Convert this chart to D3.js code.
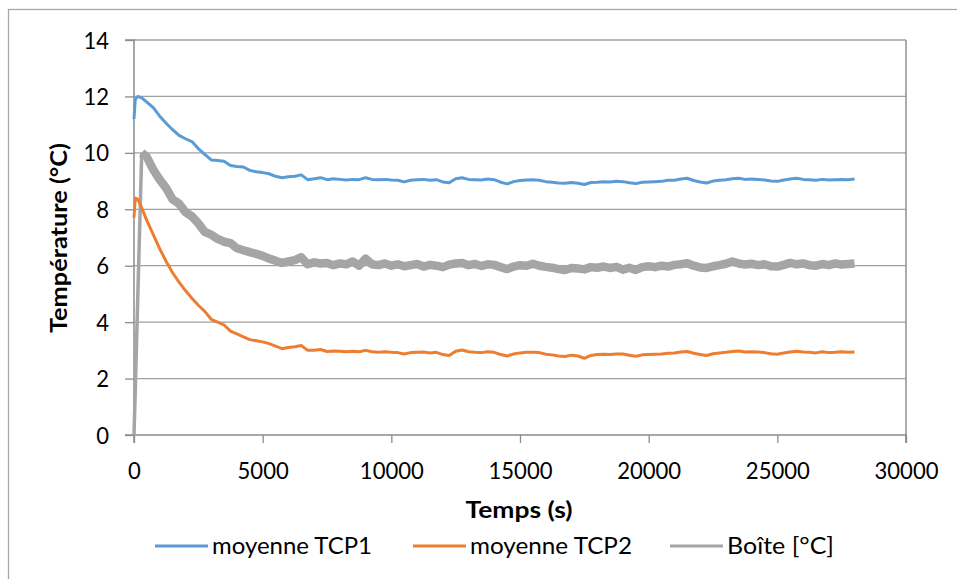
<!DOCTYPE html>
<html>
<head>
<meta charset="utf-8">
<script src="https://cdn.jsdelivr.net/npm/d3@7"></script>
<style>
  html, body { margin: 0; padding: 0; background: #fff; }
  svg { display: block; }
  text { font-family: Lato, "Open Sans", sans-serif; fill: #000; }
</style>
</head>
<body>
<svg id="chart" width="957" height="579"></svg>
<script>
// Time stamps (s) shared by the three temperature series
const temps = [0, 50, 150, 300, 500, 750, 1000, 1250, 1500, 1750, 2000, 2250, 2500, 2750, 3000,
  3250, 3500, 3750, 4000, 4250, 4500, 4750, 5000, 5250, 5500, 5750, 6000, 6250, 6500, 6750,
  7000, 7250, 7500, 7750, 8000, 8250, 8500, 8750, 9000, 9250, 9500, 9750, 10000, 10250, 10500,
  10750, 11000, 11250, 11500, 11750, 12000, 12250, 12500, 12750, 13000, 13250, 13500, 13750,
  14000, 14250, 14500, 14750, 15000, 15250, 15500, 15750, 16000, 16250, 16500, 16750, 17000,
  17250, 17500, 17750, 18000, 18250, 18500, 18750, 19000, 19250, 19500, 19750, 20000, 20250,
  20500, 20750, 21000, 21250, 21500, 21750, 22000, 22250, 22500, 22750, 23000, 23250, 23500,
  23750, 24000, 24250, 24500, 24750, 25000, 25250, 25500, 25750, 26000, 26250, 26500, 26750,
  27000, 27250, 27500, 27750, 28000];

// moyenne TCP1 (°C)
const tcp1 = [11.2, 11.9, 12.0, 11.95, 11.8, 11.6, 11.3, 11.05, 10.82, 10.62, 10.5, 10.4, 10.15, 9.95, 9.75,
  9.73, 9.7, 9.55, 9.52, 9.5, 9.38, 9.33, 9.3, 9.26, 9.17, 9.12, 9.15, 9.17, 9.22, 9.05,
  9.08, 9.12, 9.05, 9.08, 9.06, 9.04, 9.06, 9.05, 9.12, 9.06, 9.05, 9.06, 9.04, 9.03, 8.97,
  9.03, 9.05, 9.06, 9.03, 9.05, 8.97, 8.94, 9.08, 9.12, 9.06, 9.05, 9.04, 9.07,
  9.05, 8.96, 8.9, 8.98, 9.02, 9.04, 9.05, 9.03, 8.98, 8.96, 8.93, 8.92, 8.95,
  8.92, 8.88, 8.95, 8.96, 8.98, 8.97, 8.99, 8.98, 8.94, 8.91, 8.96, 8.97, 8.98,
  8.99, 9.03, 9.03, 9.07, 9.1, 9.02, 8.97, 8.93, 9.0, 9.03, 9.05, 9.08, 9.1,
  9.06, 9.07, 9.06, 9.04, 9.0, 8.99, 9.04, 9.07, 9.1, 9.06, 9.05, 9.03, 9.06,
  9.04, 9.05, 9.06, 9.05, 9.07];

// moyenne TCP2 (°C)
const tcp2 = [7.7, 8.4, 8.35, 8.05, 7.6, 7.1, 6.6, 6.15, 5.75, 5.42, 5.12, 4.85, 4.6, 4.38, 4.1,
  4.0, 3.9, 3.68, 3.58, 3.48, 3.38, 3.34, 3.3, 3.24, 3.15, 3.06, 3.1, 3.13, 3.17, 3.0,
  3.0, 3.03, 2.96, 2.98, 2.97, 2.95, 2.97, 2.95, 3.0, 2.95, 2.93, 2.95, 2.93, 2.92, 2.87,
  2.92, 2.93, 2.94, 2.91, 2.93, 2.85, 2.82, 2.97, 3.01, 2.95, 2.93, 2.92, 2.95,
  2.93, 2.85, 2.8, 2.87, 2.91, 2.93, 2.93, 2.92, 2.86, 2.84, 2.8, 2.78, 2.83,
  2.8, 2.72, 2.82, 2.85, 2.86, 2.85, 2.87, 2.87, 2.83, 2.79, 2.84, 2.85, 2.86,
  2.87, 2.9, 2.91, 2.94, 2.96, 2.9, 2.85, 2.82, 2.88, 2.91, 2.93, 2.96, 2.98,
  2.94, 2.95, 2.94, 2.92, 2.88, 2.86, 2.91, 2.94, 2.97, 2.94, 2.93, 2.91, 2.95,
  2.92, 2.93, 2.95, 2.93, 2.94];

// Boîte [°C]
const boite = [0.0, 1.6, 5.0, 10.0, 9.85, 9.4, 9.05, 8.75, 8.35, 8.2, 7.9, 7.75, 7.5, 7.2, 7.1,
  6.95, 6.85, 6.8, 6.62, 6.55, 6.48, 6.42, 6.35, 6.25, 6.18, 6.1, 6.15, 6.2, 6.3, 6.05,
  6.12, 6.08, 6.1, 6.02, 6.08, 6.05, 6.15, 6.0, 6.25, 6.05, 6.02, 6.08, 6.0, 6.05, 5.98,
  6.02, 6.06, 5.97, 6.03, 6.0, 5.95, 6.04, 6.08, 6.1, 6.02, 6.06, 5.99, 6.05,
  6.03, 5.95, 5.88, 5.97, 6.02, 6.0, 6.07, 6.0, 5.96, 5.93, 5.88, 5.85, 5.92,
  5.9, 5.87, 5.95, 5.93, 5.97, 5.92, 5.96, 5.86, 5.93, 5.85, 5.95, 5.98, 5.95,
  6.0, 5.97, 6.03, 6.05, 6.09, 6.0, 5.94, 5.92, 5.98, 6.02, 6.07, 6.15, 6.08,
  6.04, 6.07, 6.02, 6.05, 5.98, 5.97, 6.03, 6.1, 6.05, 6.08, 6.02, 6.0, 6.06,
  6.02, 6.08, 6.04, 6.06, 6.08];

const xTicks = [0, 5000, 10000, 15000, 20000, 25000, 30000];
const yTicks = [0, 2, 4, 6, 8, 10, 12, 14];
const seriesNames = ["moyenne TCP1", "moyenne TCP2", "Boîte [°C]"];
const seriesColors = ["#5B9BD5", "#ED7D31", "#A5A5A5"];

const FONT = 23;
const svg = d3.select("#chart");

// outer chart frame
svg.append("rect")
  .attr("x", 8.5).attr("y", 9.5).attr("width", 960).attr("height", 580)
  .attr("fill", "none").attr("stroke", "#a6a6a6").attr("stroke-width", 1.3);

const x = d3.scaleLinear().domain([0, 30000]).range([134, 906]);
const y = d3.scaleLinear().domain([0, 14]).range([435, 40]);

// horizontal gridlines
svg.append("g").selectAll("line").data(yTicks.filter(d => d > 0)).join("line")
  .attr("x1", x(0)).attr("x2", x(30000))
  .attr("y1", d => y(d)).attr("y2", d => y(d))
  .attr("stroke", "#a0a0a0").attr("stroke-width", 1.3);

// right edge of plot area
svg.append("line")
  .attr("x1", x(30000)).attr("x2", x(30000)).attr("y1", y(14)).attr("y2", y(0) + 8)
  .attr("stroke", "#909090").attr("stroke-width", 1.5);

// axes
const xAxis = d3.axisBottom(x).tickValues(xTicks).tickSize(8).tickFormat(d3.format("d"));
const yAxis = d3.axisLeft(y).tickValues(yTicks).tickSize(9).tickFormat(d3.format("d"));

const gx = svg.append("g").attr("transform", `translate(0,${y(0)})`).call(xAxis);
const gy = svg.append("g").attr("transform", `translate(${x(0)},0)`).call(yAxis);

[gx, gy].forEach(g => {
  g.select(".domain").attr("stroke", "#8c8c8c").attr("stroke-width", 1.5);
  g.selectAll(".tick line").attr("stroke", "#8c8c8c").attr("stroke-width", 1.3);
  g.selectAll(".tick text")
    .attr("font-family", "Lato, sans-serif").attr("font-size", FONT).attr("fill", "#000")
    .attr("lengthAdjust", "spacingAndGlyphs")
    .attr("textLength", function () { return 12.8 * this.textContent.length; });
});
gx.selectAll(".tick text").attr("y", 44).attr("dy", 0);
gy.selectAll(".tick text").attr("x", -25).attr("dy", "0.35em");
gy.select(".domain").attr("d", `M-9,${y(0)}H0V${y(14)}H-9`);
gx.select(".domain").attr("d", `M${x(0)},8V0H${x(30000)}V8`);

// series lines
const line = d3.line().x(d => x(d[0])).y(d => y(d[1]));
const pts = vals => vals.map((v, i) => [temps[i], v]);

// Boîte: thin initial rise, then the noisy plateau as a wide band
svg.append("path").datum(pts(boite).slice(0, 4)).attr("d", line)
  .attr("fill", "none").attr("stroke", seriesColors[2]).attr("stroke-width", 3.5)
  .attr("stroke-linejoin", "round");
svg.append("path").datum(pts(boite).slice(3)).attr("d", line)
  .attr("fill", "none").attr("stroke", seriesColors[2]).attr("stroke-width", 8.5)
  .attr("stroke-linejoin", "round");

[tcp1, tcp2].forEach((vals, k) => {
  svg.append("path").datum(pts(vals)).attr("d", line)
    .attr("fill", "none").attr("stroke", seriesColors[k]).attr("stroke-width", 3)
    .attr("stroke-linejoin", "round");
});

// axis titles
svg.append("text")
  .attr("x", 519).attr("y", 518)
  .attr("text-anchor", "middle")
  .attr("font-size", FONT).attr("font-weight", "bold")
  .attr("textLength", 107).attr("lengthAdjust", "spacingAndGlyphs")
  .text("Temps (s)");

svg.append("text")
  .attr("transform", "translate(67,238) rotate(-90)")
  .attr("text-anchor", "middle")
  .attr("font-size", FONT).attr("font-weight", "bold")
  .attr("textLength", 190).attr("lengthAdjust", "spacingAndGlyphs")
  .text("Température (°C)");

// legend
const legendX = [155, 413, 670];
const legendTextW = [160, 162, 107];
const lg = svg.append("g");
seriesNames.forEach((name, i) => {
  lg.append("line")
    .attr("x1", legendX[i]).attr("x2", legendX[i] + 53)
    .attr("y1", 546).attr("y2", 546)
    .attr("stroke", seriesColors[i]).attr("stroke-width", 3);
  lg.append("text")
    .attr("x", legendX[i] + 57).attr("y", 554)
    .attr("font-size", FONT)
    .attr("textLength", legendTextW[i]).attr("lengthAdjust", "spacingAndGlyphs")
    .text(name);
});
</script>
</body>
</html>
